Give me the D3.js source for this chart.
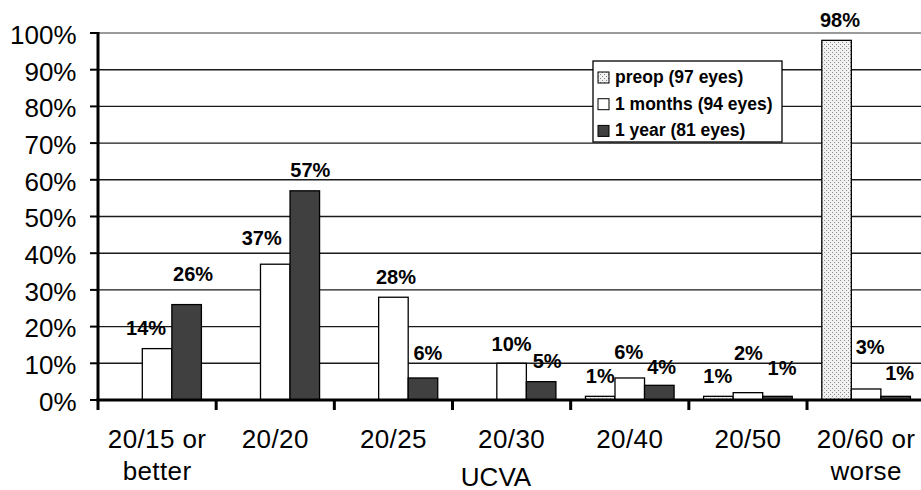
<!DOCTYPE html>
<html>
<head>
<meta charset="utf-8">
<script src="https://cdn.jsdelivr.net/npm/d3@7"></script>
<style>
  html, body { margin: 0; padding: 0; background: #fff; overflow: hidden; }
  svg { display: block; font-family: "Liberation Sans", Arial, Helvetica, sans-serif; }
</style>
</head>
<body>
<svg id="chart" width="921" height="490"></svg>
<script>
// Uncorrected visual acuity distribution, per follow-up visit
const categories = ["20/15 or\nbetter", "20/20", "20/25", "20/30", "20/40", "20/50", "20/60 or\nworse"];
const seriesNames = ["preop (97 eyes)", "1 months (94 eyes)", "1 year (81 eyes)"];
const preop    = [0, 0, 0, 0, 1, 1, 98];
const oneMonth = [14, 37, 28, 10, 6, 2, 3];
const oneYear  = [26, 57, 6, 5, 4, 1, 1];
const yTicks = [0, 10, 20, 30, 40, 50, 60, 70, 80, 90, 100];
const xTitle = "UCVA";

const seriesValues = [preop, oneMonth, oneYear];

// Hand-placed label shifts [dx, dy] in px, so neighbouring labels do not collide
const labelNudge = [
  [null, null, null, null, [0, 0.5], [-0.6, 0.5], [3.4, 0.4]],
  [[-11, 0], [-13.5, -5.5], [2.5, 0.6], [0, 1.5], [-1, -5], [0.5, -19], [4, -21.3]],
  [[6.5, -10], [5.5, 0], [5, -4.5], [6, 0.4], [2.4, 2.4], [4.5, -7.3], [4, -2.5]]
];

const svg = d3.select("#chart");

const plotLeft = 98, plotTop = 33, plotBottom = 400;
const catStep = 118.17;
const x = d3.scaleBand().domain(d3.range(categories.length))
  .range([plotLeft, plotLeft + catStep * categories.length]).paddingInner(0).paddingOuter(0);
const xs = d3.scaleBand().domain(d3.range(seriesNames.length))
  .range([0, x.bandwidth()]).paddingInner(0).paddingOuter(0.5);
const y = d3.scaleLinear().domain([0, 100]).range([plotBottom, plotTop]);

// Dotted fill for the pre-op series
const defs = svg.append("defs");
const pat = defs.append("pattern").attr("id", "dots")
  .attr("patternUnits", "userSpaceOnUse").attr("width", 4).attr("height", 4);
pat.append("rect").attr("width", 4).attr("height", 4).attr("fill", "#f2f2f2");
pat.append("rect").attr("x", 0).attr("y", 0).attr("width", 1).attr("height", 1).attr("fill", "#8a8a8a");
pat.append("rect").attr("x", 2).attr("y", 2).attr("width", 1).attr("height", 1).attr("fill", "#8a8a8a");

const fills = ["url(#dots)", "#ffffff", "#404040"];

// Gridlines
svg.append("g").selectAll("line").data(yTicks.filter(t => t > 0)).join("line")
  .attr("x1", plotLeft).attr("x2", 921)
  .attr("y1", d => y(d)).attr("y2", d => y(d))
  .attr("stroke", d => d === 100 ? "#9a9a9a" : "#1a1a1a")
  .attr("stroke-width", d => d === 100 ? 2 : 1.4);

// Bars
const bars = [];
seriesValues.forEach((vals, s) => {
  vals.forEach((v, c) => bars.push({ s, c, v }));
});
svg.append("g").selectAll("rect").data(bars.filter(d => d.v > 0)).join("rect")
  .attr("x", d => x(d.c) + xs(d.s))
  .attr("y", d => y(d.v))
  .attr("width", xs.bandwidth())
  .attr("height", d => y(0) - y(d.v))
  .attr("fill", d => fills[d.s])
  .attr("stroke", "#000")
  .attr("stroke-width", 1.3);

// Value labels
svg.append("g").selectAll("text").data(bars.filter(d => d.v > 0)).join("text")
  .attr("x", d => x(d.c) + xs(d.s) + xs.bandwidth() / 2 + (labelNudge[d.s][d.c] || [0, 0])[0])
  .attr("y", d => y(d.v) - 13.8 + (labelNudge[d.s][d.c] || [0, 0])[1])
  .attr("text-anchor", "middle")
  .attr("font-size", 20).attr("font-weight", "bold")
  .attr("fill", "#000")
  .text(d => d.v + "%");

// Y axis
const yAxis = svg.append("g");
yAxis.append("line").attr("x1", plotLeft).attr("x2", plotLeft).attr("y1", plotTop - 1).attr("y2", plotBottom + 1)
  .attr("stroke", "#000").attr("stroke-width", 3);
yAxis.selectAll("line.tick").data(yTicks).join("line").attr("class", "tick")
  .attr("x1", plotLeft - 8).attr("x2", plotLeft)
  .attr("y1", d => y(d)).attr("y2", d => y(d))
  .attr("stroke", "#000").attr("stroke-width", 2);
yAxis.selectAll("text").data(yTicks).join("text")
  .attr("x", 76.5).attr("y", d => y(d) + 10.8)
  .attr("text-anchor", "end").attr("font-size", 26)
  .attr("fill", "#000")
  .text(d => d + "%");

// X axis
const xAxis = svg.append("g");
xAxis.append("line").attr("x1", plotLeft - 1.5).attr("x2", 921).attr("y1", plotBottom).attr("y2", plotBottom)
  .attr("stroke", "#000").attr("stroke-width", 3);
xAxis.selectAll("line.tick").data(d3.range(categories.length + 1)).join("line").attr("class", "tick")
  .attr("x1", d => plotLeft + d * x.step()).attr("x2", d => plotLeft + d * x.step())
  .attr("y1", plotBottom).attr("y2", plotBottom + 10)
  .attr("stroke", "#000").attr("stroke-width", 3);
const catText = xAxis.selectAll("text").data(categories).join("text")
  .attr("x", (d, i) => x(i) + x.bandwidth() / 2)
  .attr("y", 448)
  .attr("text-anchor", "middle").attr("font-size", 26).attr("letter-spacing", 0.4)
  .attr("fill", "#000");
catText.selectAll("tspan").data(d => d.split("\n")).join("tspan")
  .attr("x", function () { return this.parentNode.getAttribute("x"); })
  .attr("dy", (d, i) => i === 0 ? 0 : 32)
  .text(d => d);

svg.append("text").attr("x", 496).attr("y", 485.5)
  .attr("text-anchor", "middle").attr("font-size", 26)
  .attr("fill", "#000").text(xTitle);

// Legend
const legend = svg.append("g");
legend.append("rect").attr("x", 593).attr("y", 61).attr("width", 189).attr("height", 81)
  .attr("fill", "#fff").attr("stroke", "#000").attr("stroke-width", 1.3);
const items = legend.selectAll("g.item").data(seriesNames).join("g").attr("class", "item")
  .attr("transform", (d, i) => `translate(598, ${72 + i * 26.7})`);
items.append("rect").attr("width", 11).attr("height", 11)
  .attr("fill", (d, i) => fills[i]).attr("stroke", "#000").attr("stroke-width", 1);
items.append("text").attr("x", 17).attr("y", 11)
  .attr("font-size", 17.5).attr("font-weight", "bold").attr("fill", "#000")
  .text(d => d);
</script>
</body>
</html>
